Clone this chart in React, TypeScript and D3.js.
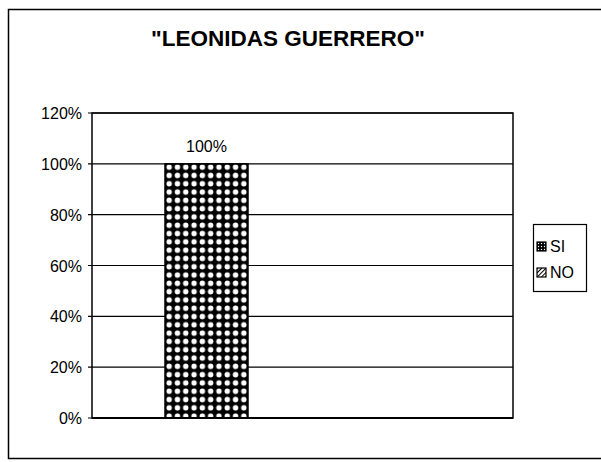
import React from 'react';
import * as d3 from 'd3';

const title = '"LEONIDAS GUERRERO"';
const seriesNames = ['SI', 'NO'];
const seriesValues = [1.0, 0];
const barLabels = ['100%', ''];
const yTicks = [0, 0.2, 0.4, 0.6, 0.8, 1.0, 1.2];

const W = 601;
const H = 462;
const plot = { left: 92, right: 513, top: 113, bottom: 418 };
const font = '"Liberation Sans", Arial, sans-serif';

const App = () => {
    const y = d3.scaleLinear().domain([0, 1.2]).range([plot.bottom, plot.top]);

    // bars sit in the left part of the plot, one slot per series
    const x = d3.scaleBand<string>()
        .domain(seriesNames)
        .range([plot.left + 73, plot.left + 239])
        .padding(0);

    const fmt = d3.format('.0%');

    return (
        <svg width={W} height={H} style={{ position: 'absolute', left: 0, top: 0, background: '#fff' }}>
            <defs>
                <pattern id="dots" width={8.3} height={8.3} patternUnits="userSpaceOnUse" x={165} y={163}>
                    <rect width={8.3} height={8.3} fill="#000" />
                    <circle cx={4.15} cy={4.15} r={2.7} fill="#fff" />
                </pattern>
                <pattern id="smalldots" width={3} height={3} patternUnits="userSpaceOnUse">
                    <rect width={3} height={3} fill="#000" />
                    <circle cx={1.5} cy={1.5} r={0.7} fill="#fff" />
                </pattern>
                <pattern id="hatch" width={3} height={3} patternUnits="userSpaceOnUse" patternTransform="rotate(45)">
                    <rect width={3} height={3} fill="#fff" />
                    <line x1={0} y1={0} x2={0} y2={3} stroke="#000" strokeWidth={2} />
                </pattern>
            </defs>

            {/* outer chart border */}
            <rect x={8.5} y={9.5} width={600} height={449} fill="none" stroke="#000" strokeWidth={1.5} />

            <text x={288} y={46} textAnchor="middle" fontFamily={font} fontWeight="bold" fontSize={22.5}>{title}</text>

            {/* gridlines */}
            {yTicks.map(t => (
                <g key={t}>
                    <line x1={plot.left - 4} x2={plot.right} y1={y(t)} y2={y(t)} stroke="#000" strokeWidth={1.2} />
                    <text x={plot.left - 10} y={y(t) + 6} textAnchor="end" fontFamily={font} fontSize={16}>{fmt(t)}</text>
                </g>
            ))}

            {/* plot frame */}
            <rect x={plot.left} y={plot.top} width={plot.right - plot.left} height={plot.bottom - plot.top}
                fill="none" stroke="#000" strokeWidth={1.5} />

            {seriesNames.map((s, i) => (
                <g key={s}>
                    {seriesValues[i] > 0 && (
                        <rect x={x(s)} y={y(seriesValues[i])} width={x.bandwidth()}
                            height={y(0) - y(seriesValues[i])}
                            fill={i === 0 ? 'url(#dots)' : 'url(#hatch)'} stroke="#000" strokeWidth={1.5} />
                    )}
                    {barLabels[i] && (
                        <text x={(x(s) ?? 0) + x.bandwidth() / 2} y={y(seriesValues[i]) - 12}
                            textAnchor="middle" fontFamily={font} fontSize={16}>{barLabels[i]}</text>
                    )}
                </g>
            ))}
            <line x1={plot.left} x2={plot.right} y1={plot.bottom} y2={plot.bottom} stroke="#000" strokeWidth={2} />

            {/* legend */}
            <rect x={533.5} y={224.5} width={53} height={67} fill="#fff" stroke="#000" strokeWidth={1.2} />
            {seriesNames.map((s, i) => (
                <g key={s} transform={`translate(537,${242 + i * 26})`}>
                    <rect x={0} y={0} width={9} height={9} fill={i === 0 ? 'url(#smalldots)' : 'url(#hatch)'} stroke="#000" strokeWidth={1.2} />
                    <text x={13} y={10} fontFamily={font} fontSize={16}>{s}</text>
                </g>
            ))}
        </svg>
    );
};

export default App;
